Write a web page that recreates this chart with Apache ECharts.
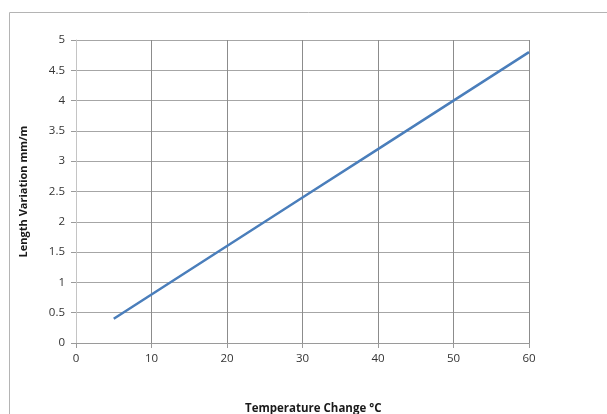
<!DOCTYPE html>
<html><head><meta charset="utf-8">
<script src="https://cdn.jsdelivr.net/npm/echarts@6/dist/echarts.min.js"></script>
<style>html,body{margin:0;padding:0;background:#fff}#c{width:607px;height:414px}</style>
</head><body><div id="c"></div>
<script>
const temperatureChange = [5, 10, 20, 30, 40, 50, 60];
const lengthVariation = [0.4, 0.8, 1.6, 2.4, 3.2, 4.0, 4.8];
const xTitle = 'Temperature Change \u00B0C';
const yTitle = 'Length Variation mm/m';

const chart = echarts.init(document.getElementById('c'), null, {renderer: 'canvas'});
const labelFont = {fontFamily: 'Open Sans, Liberation Sans, sans-serif', fontSize: 11.5, color: '#333333'};
chart.setOption({
  animation: false,
  grid: {left: 76, right: 78, top: 40, bottom: 71},
  graphic: [
    {type: 'rect', shape: {x: 9.5, y: 12.5, width: 700, height: 500},
     style: {fill: 'none', stroke: '#b4b4b4', lineWidth: 1}, z: -1, silent: true},
    {type: 'text', left: 245, top: 403,
     style: {text: xTitle, font: 'bold 11.5px Open Sans, Liberation Sans, sans-serif', fill: '#1a1a1a'}}
  ],
  xAxis: {
    type: 'value', min: 0, max: 60, interval: 10,
    axisLine: {show: true, lineStyle: {color: '#9a9a9a', width: 1}},
    axisTick: {show: true, length: 5, lineStyle: {color: '#9a9a9a'}},
    axisLabel: Object.assign({margin: 10}, labelFont),
    splitLine: {show: true, lineStyle: {color: '#8c8c8c', width: 1}}
  },
  yAxis: {
    type: 'value', min: 0, max: 5, interval: 0.5,
    name: yTitle, nameLocation: 'middle', nameGap: 47, nameRotate: 90,
    nameTextStyle: {fontFamily: 'Open Sans, Liberation Sans, sans-serif', fontSize: 11, fontWeight: 'bold', color: '#1a1a1a'},
    axisLine: {show: true, lineStyle: {color: '#c4c4c4', width: 1}},
    axisTick: {show: true, length: 5, lineStyle: {color: '#9a9a9a'}},
    axisLabel: Object.assign({margin: 11}, labelFont),
    splitLine: {show: true, lineStyle: {color: '#a6a6a6', width: 1}}
  },
  series: [{
    type: 'line',
    data: temperatureChange.map((t, i) => [t, lengthVariation[i]]),
    showSymbol: false, symbol: 'none',
    lineStyle: {color: '#4a7ebb', width: 2.5},
    smooth: false
  }]
});
</script></body></html>
